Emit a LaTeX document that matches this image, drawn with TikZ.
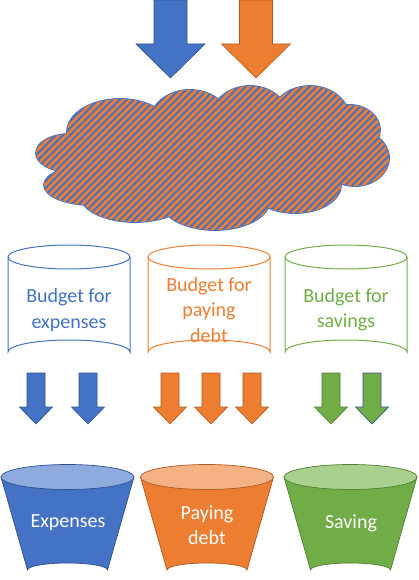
\documentclass[tikz,border=0pt]{standalone}
\usepackage{fontspec}
\setmainfont{Carlito}
\usetikzlibrary{patterns.meta}
\definecolor{cblue}{HTML}{4472C4}
\definecolor{cbluedk}{HTML}{2F528F}
\definecolor{cbluelt}{HTML}{8FAADC}
\definecolor{corange}{HTML}{ED7D31}
\definecolor{corangedk}{HTML}{AE5A21}
\definecolor{corangelt}{HTML}{F4B183}
\definecolor{cgreen}{HTML}{70AD47}
\definecolor{cgreendk}{HTML}{507E32}
\definecolor{cgreenlt}{HTML}{A9D18E}
\begin{document}
\begin{tikzpicture}[x=1pt,y=-1pt,
  smallarrow/.pic={\path[pic actions] (-9,0) -- (9,0) -- (9,34) -- (16.5,34) -- (0,51) -- (-16.5,34) -- (-9,34) -- cycle;},
  bigarrow/.pic={\path[pic actions] (-16.5,0) -- (16.5,0) -- (16.5,44) -- (34.5,44) -- (0,78) -- (-34.5,44) -- (-16.5,44) -- cycle;},
  barr/.style={fill=cblue,draw=cbluedk,line width=0.6pt},
  oarr/.style={fill=corange,draw=corangedk,line width=0.6pt},
  garr/.style={fill=cgreen,draw=cgreendk,line width=0.6pt},
  cyltext/.style={align=center,font=\fontsize{20}{25.5}\selectfont},
  buckettext/.style={align=center,text=white,font=\fontsize{20}{25}\selectfont},
]
\useasboundingbox (0,0) rectangle (418,580);

% top arrows
\pic[barr] at (170.5,0) {bigarrow};
\pic[oarr] at (256,0) {bigarrow};

% cloud
\def\cloudshape{
  (70,153) ellipse[x radius=34,y radius=19]
  (92,185) ellipse[x radius=48,y radius=20]
  (120,132) ellipse[x radius=53,y radius=33]
  (190,122) ellipse[x radius=40,y radius=32]
  (250,117) ellipse[x radius=38,y radius=31]
  (310,120) ellipse[x radius=40,y radius=34]
  (350,130) ellipse[x radius=30,y radius=25]
  (355,158) ellipse[x radius=34,y radius=28]
  (295,185) ellipse[x radius=46,y radius=28]
  (215,200) ellipse[x radius=55,y radius=30]
  (135,195) ellipse[x radius=55,y radius=27]
  (210,160) ellipse[x radius=150,y radius=45]
}
\draw[cblue,line width=1.8pt] \cloudshape;
\path[preaction={fill=corange},pattern={Lines[angle=45,distance=5pt,line width=2pt]},pattern color=cblue] \cloudshape;

% cylinders
\foreach \cx/\col/\nm in {69/cblue/a,209/corange/b,346/cgreen/c}{
  \draw[\col,line width=1pt,fill=white] (\cx-61,257) -- (\cx-61,352) arc[start angle=180,end angle=360,x radius=61,y radius=12] -- (\cx+61,257);
  \draw[\col,line width=1pt] (\cx,257) ellipse[x radius=61,y radius=12];
}
\node[cyltext,text=cblue] (cyla) at (69,310) {Budget for\\expenses};
\node[cyltext,text=corange] (cylb) at (209,310) {Budget for\\paying\\debt};
\node[cyltext,text=cgreen] (cylc) at (346,310) {Budget for\\savings};

% small arrows
\pic[barr] at (36,373) {smallarrow};
\pic[barr] at (88,373) {smallarrow};
\pic[oarr] at (170,373) {smallarrow};
\pic[oarr] at (211,373) {smallarrow};
\pic[oarr] at (252,373) {smallarrow};
\pic[garr] at (331,373) {smallarrow};
\pic[garr,draw=cbluedk] at (372,373) {smallarrow};

% buckets
\foreach \cx/\col/\dk/\lt in {67.5/cblue/cbluedk/cbluelt,207/corange/corangedk/corangelt,350.5/cgreen/cgreendk/cgreenlt}{
  \draw[fill=\col,draw=\dk,line width=0.7pt] (\cx-66.5,477) -- (\cx-40,570) arc[start angle=180,end angle=360,x radius=40,y radius=7] -- (\cx+66.5,477) -- cycle;
  \draw[fill=\lt,draw=\dk,line width=0.7pt] (\cx,477) ellipse[x radius=66.5,y radius=12.5];
}
\node[buckettext] (bka) at (68,523) {Expenses};
\node[buckettext] (bkb) at (207,525.5) {Paying\\debt};
\node[buckettext] (bkc) at (351,523) {Saving};
\end{tikzpicture}
\end{document}
